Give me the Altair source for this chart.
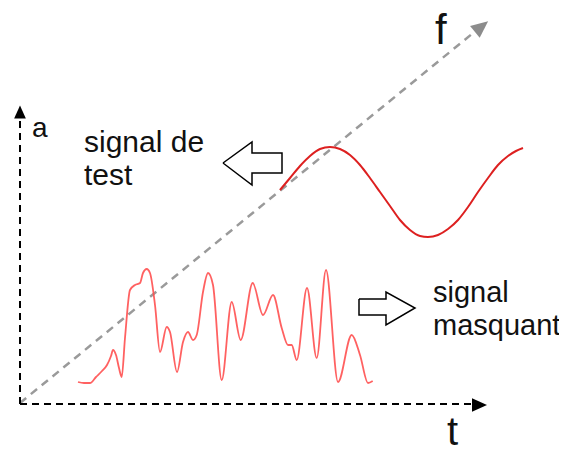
import altair as alt
import pandas as pd

# ---- data (diagram coordinates in picture pixels: x to the right, y downward) ----
noise_x = [78, 84, 90, 96, 102, 107, 111, 113, 116, 119, 121.7, 125, 130, 135, 140, 143, 146.7, 150, 155, 160,
           166.7, 170, 177, 183, 188, 193, 196.7, 203, 208, 213, 221.7, 231.7, 240.7, 252.7, 263, 273, 281.7,
           288, 291.7, 296.7, 307, 316.7, 326, 338, 351.7, 360, 368, 372.7]
noise_y = [382, 383, 383, 377, 371, 365, 356, 350, 355, 368, 377, 338, 290, 285, 283, 273, 269, 273, 305, 352,
           327, 332, 372, 342, 332, 340, 335, 292, 273, 285, 380, 302, 340, 283, 315, 295, 328,
           345, 345, 360, 288, 358, 270, 382, 335, 355, 383, 381]

sine_x = [280, 290, 300, 310, 320, 330, 340, 350, 360, 370, 380, 390, 400, 410, 420, 428, 438, 448, 458, 468,
          478, 488, 498, 508, 516, 523]
sine_y = [190, 178, 166, 156, 149, 147, 149, 155, 165, 178, 192, 206, 220, 230, 236, 237, 235, 229, 220, 207,
          192, 178, 165, 156, 151, 148]

axis_v = {"x": [20, 20], "y": [404, 118]}
axis_h = {"x": [20, 473], "y": [404, 404]}
diag = {"x": [20, 478], "y": [403, 29]}

heads_x = [20, 479.5, 481.5]
heads_y = [112, 405, 26.5]
heads_angle = [0, 90, 51]
heads_size = [169, 225, 289]
heads_color = ["#000000", "#000000", "#8c8c8c"]

left_arrow_x = [223, 252, 252, 282, 282, 252, 252, 223]
left_arrow_y = [163, 142, 153, 153, 173, 173, 185, 163]
right_arrow_x = [359, 386, 386, 415, 386, 386, 359, 359]
right_arrow_y = [299, 299, 292, 308, 325, 315, 315, 299]

labels = ["a", "signal de", "test", "signal", "masquant", "f", "t"]
labels_x = [32, 84, 84, 433, 433, 435, 447]
labels_y = [137, 152, 185, 302, 335, 44, 445]
labels_size = [28, 30, 30, 29, 29, 42, 40]

# ---- scales ----
W, H = 551, 439
xs = alt.Scale(domain=[8, 8 + W], nice=False, zero=False)
ys = alt.Scale(domain=[8, 8 + H], reverse=True, nice=False, zero=False)
X = lambda f="x": alt.X(f"{f}:Q", scale=xs, axis=None)
Y = lambda f="y": alt.Y(f"{f}:Q", scale=ys, axis=None)


def poly(xv, yv):
    return pd.DataFrame({"x": xv, "y": yv, "i": list(range(len(xv)))})


def dashed(d, color, width, dash):
    return alt.Chart(poly(d["x"], d["y"])).mark_line(
        color=color, strokeWidth=width, strokeDash=dash
    ).encode(x=X(), y=Y(), order="i:Q")


diag_l = dashed(diag, "#9a9a9a", 2.5, [8, 6])
v_l = dashed(axis_v, "#000000", 2, [7, 5])
h_l = dashed(axis_h, "#000000", 2, [7, 5])

heads = alt.Chart(pd.DataFrame({
    "x": heads_x, "y": heads_y, "angle": heads_angle, "size": heads_size, "color": heads_color
})).mark_point(shape="M0,-1L0.9,1L-0.9,1Z", filled=True, opacity=1).encode(
    x=X(), y=Y(),
    angle=alt.Angle("angle:Q", scale=None),
    size=alt.Size("size:Q", scale=None),
    color=alt.Color("color:N", scale=None),
)

noise_l = alt.Chart(poly(noise_x, noise_y)).mark_line(
    color="#ff5050", strokeWidth=1.8, interpolate="monotone", opacity=0.9
).encode(x=X(), y=Y(), order="i:Q")

sine_l = alt.Chart(poly(sine_x, sine_y)).mark_line(
    color="#dd2020", strokeWidth=2, interpolate="monotone"
).encode(x=X(), y=Y(), order="i:Q")

left_a = alt.Chart(poly(left_arrow_x, left_arrow_y)).mark_line(
    color="#000000", strokeWidth=1.5
).encode(x=X(), y=Y(), order="i:Q")
right_a = alt.Chart(poly(right_arrow_x, right_arrow_y)).mark_line(
    color="#000000", strokeWidth=1.5
).encode(x=X(), y=Y(), order="i:Q")

texts = alt.Chart(pd.DataFrame({
    "x": labels_x, "y": labels_y, "t": labels, "s": labels_size
})).mark_text(
    align="left", baseline="alphabetic", font="Liberation Sans", color="#111111"
).encode(x=X(), y=Y(), text="t:N", size=alt.Size("s:Q", scale=None))

chart = alt.layer(
    diag_l, v_l, h_l, heads, noise_l, sine_l, left_a, right_a, texts
).properties(
    width=W, height=H, padding=0, autosize=alt.AutoSizeParams(type="none")
).configure_view(stroke=None)

chart.save("out.html", embed_options={"renderer": "svg", "actions": False})
